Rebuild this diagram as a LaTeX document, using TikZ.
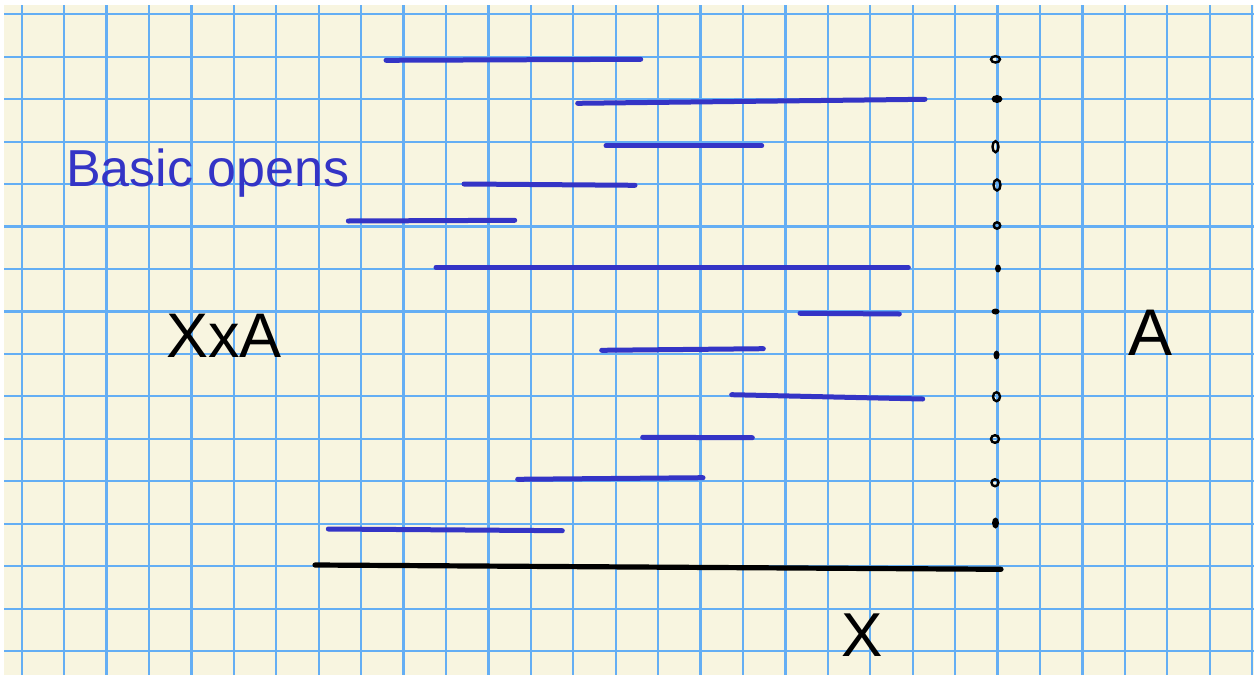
\documentclass[tikz,border=0pt]{standalone}
\usepackage{fontspec}
\setmainfont{Liberation Sans}
\definecolor{paper}{HTML}{F8F5E0}
\definecolor{gridblue}{HTML}{64AEF4}
\definecolor{penblue}{HTML}{3434C6}
\begin{document}
\begin{tikzpicture}[x=1pt,y=-1pt,
  opn/.style={penblue, line width=5pt, line cap=round},
  ink/.style={black, line width=5.2pt, line cap=round},
  ring/.style={black, line width=2.4pt},
  blob/.style={black, fill=black},
  lbl/.style={inner sep=0pt, outer sep=0pt, anchor=base west}]
\useasboundingbox (0,0) rectangle (1254,675);
\fill[white] (0,0) rectangle (1254,675);
\fill[paper] (4,5) rectangle (1254,675);
\foreach \k in {0,...,29} \draw[gridblue, line width=2.2pt] ({21.7+42.43*\k},5) -- ({21.7+42.43*\k},675);
\foreach \k in {0,...,15} \draw[gridblue, line width=2.2pt] (4,{14.3+42.45*\k}) -- (1254,{14.3+42.45*\k});
% basic opens
\draw[opn] (386,60.3) -- (640.7,59.3);
\draw[opn] (577.7,103.3) -- (925,99.3);
\draw[opn] (606,145.7) -- (761.7,145.7);
\draw[opn] (464,184) -- (635,185.3);
\draw[opn] (348.3,221) -- (514.7,220.3);
\draw[opn] (436,267.3) -- (908.3,267.3);
\draw[opn] (800,313.3) -- (899.3,314);
\draw[opn] (601.7,350.3) -- (763.3,348.7);
\draw[opn] (731.7,394.7) -- (922.7,399);
\draw[opn] (642.7,437.3) -- (752.3,437.7);
\draw[opn] (517.7,479.3) -- (703,477.7);
\draw[opn] (328.3,529) -- (562.3,530.7);
% X axis
\draw[ink] (315,565) -- (1001,569.3);
% points of A
\draw[ring] (995.5,59.3) ellipse [x radius=4.5, y radius=3.2];
\fill[blob] (997,99) ellipse [x radius=5.5, y radius=4];
\draw[ring] (995.5,146.7) ellipse [x radius=3, y radius=5.5];
\draw[ring] (997,185) ellipse [x radius=3.5, y radius=5.5];
\draw[ring] (997,225.5) ellipse [x radius=3.2, y radius=3.2];
\fill[blob] (998,268.5) ellipse [x radius=3, y radius=4];
\fill[blob] (995.5,311.5) ellipse [x radius=4, y radius=3];
\fill[blob] (996.5,355) ellipse [x radius=3, y radius=4.5];
\draw[ring] (996.5,396.7) ellipse [x radius=3.5, y radius=4.5];
\draw[ring] (995,439) ellipse [x radius=4, y radius=3.8];
\draw[ring] (995,482.7) ellipse [x radius=3.5, y radius=3.5];
\fill[blob] (995.5,523) ellipse [x radius=3.5, y radius=5.5];
% labels
\node[lbl, text=penblue, font=\fontsize{52}{52}\selectfont] (basic) at (66,186) {Basic opens};
\node[lbl, font=\fontsize{63}{63}\selectfont] (prod) at (166,357) {XxA};
\node[lbl, font=\fontsize{66}{66}\selectfont] (afib) at (1128,355) {A};
\node[lbl, font=\fontsize{62}{62}\selectfont] (xbase) at (841,656) {X};
\end{tikzpicture}
\end{document}
